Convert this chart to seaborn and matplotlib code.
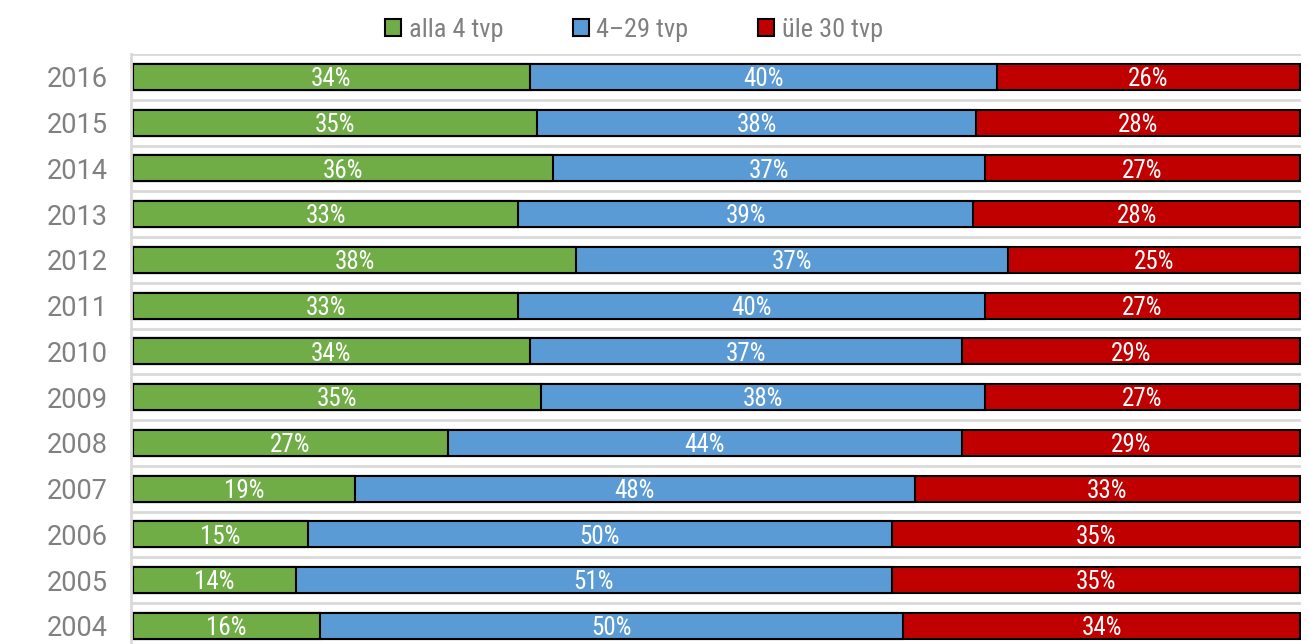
import numpy as np
import pandas as pd
import matplotlib
matplotlib.use("Agg")
import matplotlib.pyplot as plt
import seaborn as sns
from matplotlib.patches import Patch
from matplotlib import font_manager

# Share of farms by size group, per year
years = ["2016", "2015", "2014", "2013", "2012", "2011", "2010",
         "2009", "2008", "2007", "2006", "2005", "2004"]
alla_4_tvp = [34, 35, 36, 33, 38, 33, 34, 35, 27, 19, 15, 14, 16]
tvp_4_29 = [40, 38, 37, 39, 37, 40, 37, 38, 44, 48, 50, 51, 50]
ule_30_tvp = [26, 28, 27, 28, 25, 27, 29, 27, 29, 33, 35, 35, 34]

series_labels = ["alla 4 tvp", "4–29 tvp", "üle 30 tvp"]
series_colors = ["#70AD47", "#5B9BD5", "#C00000"]

sns.set_style("white")
installed = {f.name for f in font_manager.fontManager.ttflist}
narrow = next((f for f in ["Roboto Condensed", "Liberation Sans Narrow", "Arial Narrow"]
               if f in installed), "Roboto")
plt.rcParams["font.family"] = ["Roboto", "DejaVu Sans"]

values = pd.DataFrame({"alla": alla_4_tvp, "mid": tvp_4_29, "ule": ule_30_tvp}, index=years)
shares = values.div(values.sum(axis=1), axis=0)
ends = shares.cumsum(axis=1)
starts = ends - shares

fig = plt.figure(figsize=(13.1, 6.44), dpi=100)
ax = fig.add_axes([131 / 1310, 0, 1170 / 1310, 1 - 54 / 644])

# Stacked bars: draw cumulative totals from the longest to the shortest
for col, color in reversed(list(zip(values.columns, series_colors))):
    layer = pd.DataFrame({"year": years, "end": ends[col].values})
    sns.barplot(data=layer, x="end", y="year", orient="h", order=years,
                color=color, saturation=1, width=0.57,
                edgecolor="black", linewidth=1.5, ax=ax)

# Percentage labels in the middle of each segment
for i, year in enumerate(years):
    for col in values.columns:
        cx = (starts.loc[year, col] + ends.loc[year, col]) / 2
        ax.text(cx, i + 0.2, f"{values.loc[year, col]}%", ha="center", va="baseline",
                color="white", fontsize=18, family=[narrow, "DejaVu Sans"])

ax.set_xlabel("")
ax.set_ylabel("")
ax.set_xticks([])
ax.set_yticks(range(len(years)))
ax.set_yticklabels(years)
ax.tick_params(axis="y", length=0, pad=17, labelsize=19.5, labelcolor="#808080")
ax.set_yticks(np.arange(-0.5, len(years) + 0.5, 1), minor=True)
ax.tick_params(axis="y", which="minor", length=0)
ax.grid(False)
ax.grid(which="minor", axis="y", color="#d9d9d9", linewidth=2)
ax.set_axisbelow(True)
for side in ["top", "right", "bottom"]:
    ax.spines[side].set_visible(False)
ax.spines["left"].set_color("#d9d9d9")
ax.spines["left"].set_linewidth(2)

# Limits last, so the tick setup above cannot widen them
ax.set_xlim(-2 / 1167, 1 + 1 / 1167)
ax.set_ylim(12.396, -0.5)

handles = [Patch(facecolor=c, edgecolor="black", linewidth=1.5) for c in series_colors]
fig.legend(handles, series_labels, loc="center", bbox_to_anchor=(634 / 1310, 1 - 30 / 644),
           ncol=3, frameon=False, prop={"family": [narrow, "DejaVu Sans"], "size": 19},
           labelcolor="#808080", handlelength=0.6, handleheight=0.6,
           handletextpad=0.3, columnspacing=2.63)

fig.savefig("out.png", dpi=100)
